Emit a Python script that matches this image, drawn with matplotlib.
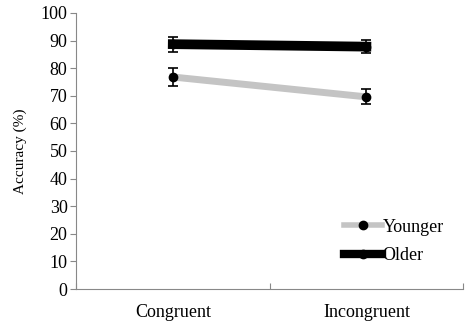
import matplotlib.pyplot as plt
from matplotlib.lines import Line2D

# Accuracy (%) by condition for each age group
conditions = ['Congruent', 'Incongruent']
younger = [76.8, 69.6]
younger_err = [3.1, 2.7]
older = [88.7, 87.8]
older_err = [2.7, 2.4]

plt.rcParams['font.family'] = ['Liberation Serif', 'DejaVu Serif']

fig = plt.figure(figsize=(4.66, 3.24), dpi=100)
ax = fig.add_axes([0.163, 0.108, 0.831, 0.852])

x = [1, 2]
ax.errorbar(x, younger, yerr=younger_err, color='#c4c4c4', lw=5, marker='o',
            markersize=6, mfc='black', mec='black', ecolor='black', elinewidth=1.2,
            capsize=3.5, capthick=1.2, zorder=3)
ax.errorbar(x, older, yerr=older_err, color='black', lw=7, marker='o',
            markersize=6, mfc='black', mec='black', ecolor='black', elinewidth=1.2,
            capsize=3.5, capthick=1.2, zorder=4)

ax.set_xlim(0.5, 2.5)
ax.set_ylim(0, 100)
ax.set_yticks(range(0, 101, 10))
ax.set_xticks([0.5, 1.5, 2.5])
ax.set_xticklabels([])
ax.set_xticks(x, minor=True)
ax.set_xticklabels(conditions, minor=True, fontsize=13)
ax.tick_params(axis='x', which='minor', length=0, pad=11)
ax.tick_params(axis='x', which='major', length=4, color='#888888', direction='in')
ax.tick_params(axis='y', length=4, color='#888888', labelsize=13, pad=2)
ax.set_ylabel('Accuracy (%)', fontsize=11, labelpad=10)

for s in ['top', 'right']:
    ax.spines[s].set_visible(False)
for s in ['left', 'bottom']:
    ax.spines[s].set_color('#888888')

handles = [
    Line2D([], [], color='#c4c4c4', lw=4, marker='o', markersize=6,
           mfc='black', mec='black'),
    Line2D([], [], color='black', lw=6, marker='o', markersize=6,
           mfc='black', mec='black'),
]
fig.legend(handles, ['Younger', 'Older'], loc='center left',
           bbox_to_anchor=(0.703, 0.2546), bbox_transform=fig.transFigure,
           frameon=False, fontsize=13, handlelength=2.1, handletextpad=0.05,
           labelspacing=0.65)

fig.savefig('out.png', dpi=100)
